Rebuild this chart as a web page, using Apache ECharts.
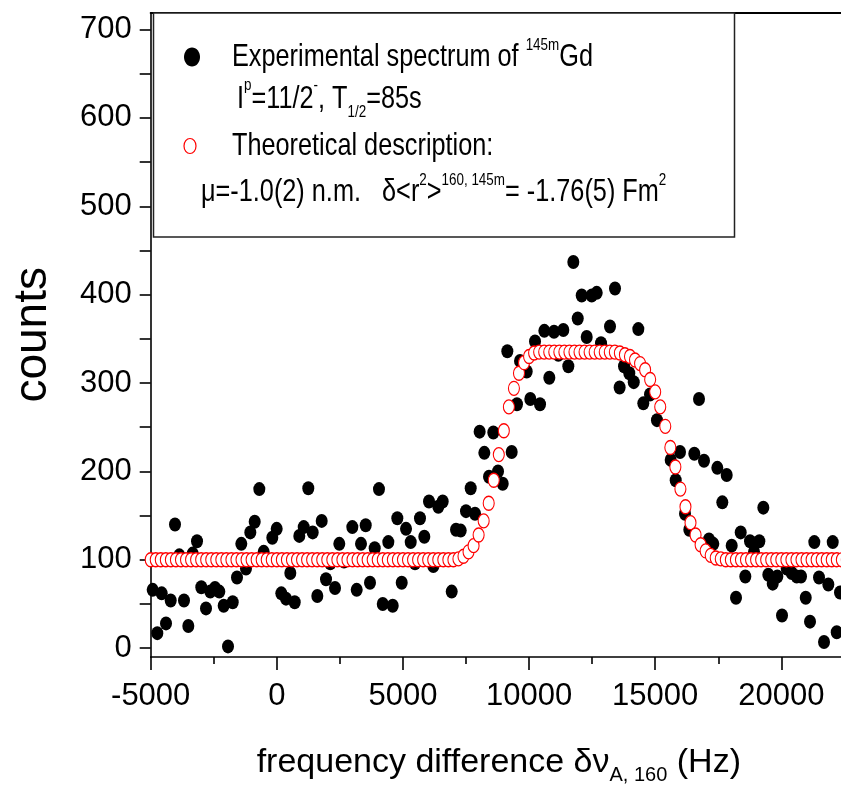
<!DOCTYPE html>
<html><head><meta charset="utf-8">
<script src="https://cdn.jsdelivr.net/npm/echarts@6/dist/echarts.min.js"></script>
<style>html,body{margin:0;padding:0;background:#fff}#c{width:841px;height:792px}</style>
</head><body><div id="c"></div><script>
const FONT = '"Liberation Sans", Arial, sans-serif';

// Experimental spectrum (frequency difference in Hz, counts)
const expX = [-4921,-4738,-4564,-4393,-4207,-4037,-3866,-3680,-3509,-3335,-3164,-2994,-2808,-2637,-2451,-2280,-2106,-1935,-1749,-1579,-1408,-1222,-1051,-877,-694,-520,-179,-5,178,364,535,709,891,1066,1248,1422,1605,1779,1950,2120,2307,2477,2663,2993,3167,3337,3524,3694,3880,4050,4200,4420,4594,4777,4951,5122,5308,5478,5676,5847,6033,6204,6402,6576,6933,7104,7290,7500,7686,7857,8040,8226,8412,8583,8769,8955,9138,9311,9520,9641,9906,10050,10236,10434,10605,10803,10989,11160,11358,11556,11754,11929,12087,12285,12484,12682,12852,13030,13209,13407,13590,13764,13974,14150,14331,14529,14794,15070,15615,15813,15984,16182,16353,16551,16737,16935,17133,17304,17463,17661,17835,18033,18204,18390,18573,18759,18918,19128,19287,19485,19659,19841,20028,20214,20413,20611,20781,20968,21138,21308,21495,21693,21864,22038,22197,22327];
const expY = [66,17,62,28,54,140,105,54,25,107,121,69,45,64,68,64,48,2,52,80,118,90,131,143,180,109,125,135,62,56,85,52,127,137,181,131,59,144,78,96,68,118,98,137,66,118,139,74,113,180,50,120,48,147,74,135,120,96,147,126,166,93,160,166,64,134,133,155,181,152,245,221,194,244,200,186,336,222,276,325,313,282,347,276,359,306,358,332,360,319,437,373,399,352,399,402,345,336,364,407,295,319,311,301,361,277,287,258,213,190,222,152,134,220,282,212,123,118,204,165,196,116,57,131,81,121,109,121,159,83,73,81,37,90,85,81,81,57,30,120,80,7,72,120,18,63];

// Theoretical description
const theoX = [-5000,-4800,-4600,-4400,-4200,-4000,-3800,-3600,-3400,-3200,-3000,-2800,-2600,-2400,-2200,-2000,-1800,-1600,-1400,-1200,-1000,-800,-600,-400,-200,0,200,400,600,800,1000,1200,1400,1600,1800,2000,2200,2400,2600,2800,3000,3200,3400,3600,3800,4000,4200,4400,4600,4800,5000,5200,5400,5600,5800,6000,6200,6400,6600,6800,7000,7200,7400,7600,7800,8000,8200,8400,8600,8800,9000,9200,9400,9600,9800,10000,10200,10400,10600,10800,11000,11200,11400,11600,11800,12000,12200,12400,12600,12800,13000,13200,13400,13600,13800,14000,14200,14400,14600,14800,15000,15200,15400,15600,15800,16000,16200,16400,16600,16800,17000,17200,17400,17600,17800,18000,18200,18400,18600,18800,19000,19200,19400,19600,19800,20000,20200,20400,20600,20800,21000,21200,21400,21600,21800,22000,22200,22400,22600];
const theoY = [100,100,100,100,100,100,100,100,100,100,100,100,100,100,100,100,100,100,100,100,100,100,100,100,100,100,100,100,100,100,100,100,100,100,100,100,100,100,100,100,100,100,100,100,100,100,100,100,100,100,100,100,100,100,100,100,100,100,100,100,100,101,104,109,116,128,144,164,190,219,246,273,294,311,323,330,334,335,335,335,335,335,335,335,335,335,335,335,335,335,335,335,335,334,332,330,326,322,315,304,290,273,251,227,205,180,160,142,128,117,110,105,102,101,100,100,100,100,100,100,100,100,100,100,100,100,100,100,100,100,100,100,100,100,100,100,100,100,100];

const xMajorTicks = [-5000,0,5000,10000,15000,20000];
const xMinorTicks = [-2500,2500,7500,12500,17500,22500];
const yTicks = [0,50,100,150,200,250,300,350,400,450,500,550,600,650,700];
const yLabels = [0,100,200,300,400,500,600,700];

const chart = echarts.init(document.getElementById('c'), null, {renderer:'canvas'});
const XMIN = -5000, XMAX = 22600, YMIN = -10, YMAX = 719;
const axisCommon = {type:'value', min:XMIN, max:XMAX, splitLine:{show:false}};
const SX = 0.79; // condensed legend lettering
const legendText = (x, y, text, lh) => ({
  type:'text', x:x, y:y, z:101, scaleX:SX, scaleY:1,
  style:{text:text, fontSize:32, fontFamily:FONT, fill:'#000', lineHeight:lh,
    verticalAlign:'middle', align:'left',
    rich:{sup:{fontSize:17, fontFamily:FONT, fill:'#000', lineHeight:17, verticalAlign:'top'},
          sub:{fontSize:17, fontFamily:FONT, fill:'#000', lineHeight:17, verticalAlign:'bottom'}}}
});
chart.setOption({
  animation:false,
  backgroundColor:'#fff',
  grid:{left:150.7, top:12.7, right:-5.9, bottom:135, containLabel:false, outerBoundsMode:'none'},
  xAxis:[
    Object.assign({}, axisCommon, {
      position:'bottom',
      axisLine:{show:true, onZero:false, lineStyle:{color:'#000', width:1.6}},
      axisTick:{show:true, customValues:xMajorTicks, length:13, lineStyle:{color:'#000', width:1.6}},
      axisLabel:{customValues:xMajorTicks, formatter:v=>String(v), color:'#000', fontSize:31, fontFamily:FONT, margin:24},
      name:'frequency difference δν{sub|A, 160} (Hz)',
      nameLocation:'middle', nameGap:84,
      nameTextStyle:{color:'#000', fontSize:34, fontFamily:FONT, lineHeight:44, verticalAlign:'top',
        rich:{sub:{fontSize:20, fontFamily:FONT, color:'#000', lineHeight:20, verticalAlign:'bottom'}}}
    }),
    Object.assign({}, axisCommon, {
      position:'bottom',
      axisLine:{show:false, onZero:false},
      axisTick:{show:true, customValues:xMinorTicks, length:7, lineStyle:{color:'#000', width:1.6}},
      axisLabel:{show:false}
    }),
    Object.assign({}, axisCommon, {
      position:'top',
      axisLine:{show:true, onZero:false, lineStyle:{color:'#000', width:2}},
      axisTick:{show:false}, axisLabel:{show:false}
    })
  ],
  yAxis:[{
    type:'value', min:YMIN, max:YMAX, position:'left',
    splitLine:{show:false},
    axisLine:{show:true, onZero:false, lineStyle:{color:'#000', width:1.6}},
    axisTick:{show:true, customValues:yTicks, length:11, lineStyle:{color:'#000', width:1.6}},
    axisLabel:{customValues:yLabels, formatter:v=>String(v), color:'#000', fontSize:31, fontFamily:FONT, margin:19},
    name:'counts', nameLocation:'middle', nameRotate:90, nameGap:94,
    nameTextStyle:{color:'#000', fontSize:46, fontFamily:FONT}
  }],
  series:[
    {
      name:'Experimental', type:'scatter', xAxisIndex:0, yAxisIndex:0,
      symbol:'circle', symbolSize:[12,14],
      itemStyle:{color:'#000', opacity:1},
      data: expX.map((x,i)=>[x, expY[i]])
    },
    {
      name:'Theoretical', type:'scatter', xAxisIndex:0, yAxisIndex:0,
      symbol:'circle', symbolSize:[11,14],
      itemStyle:{color:'#fff', borderColor:'#ff0000', borderWidth:1.2, opacity:1},
      data: theoX.map((x,i)=>[x, theoY[i]])
    }
  ],
  graphic:[
    {type:'rect', shape:{x:153.5, y:13, width:581, height:224}, style:{fill:'#fff', stroke:'#222', lineWidth:1.5}, z:100},
    {type:'ellipse', shape:{cx:192, cy:57, rx:8, ry:9.5}, style:{fill:'#000'}, z:101},
    legendText(232, 57, 'Experimental spectrum of {sup|145m}Gd', 40),
    legendText(237, 99, 'I{sup|p}=11/2{sup|-}, T{sub|1/2}=85s', 44),
    {type:'ellipse', shape:{cx:190, cy:146, rx:6, ry:7.5}, style:{fill:'none', stroke:'#ff0000', lineWidth:1.2}, z:101},
    legendText(232, 146, 'Theoretical description:', 40),
    legendText(201, 192, 'μ=-1.0(2) n.m.   δ<r{sup|2}>{sup|160, 145m}= -1.76(5) Fm{sup|2}', 40)
  ]
});
</script></body></html>
